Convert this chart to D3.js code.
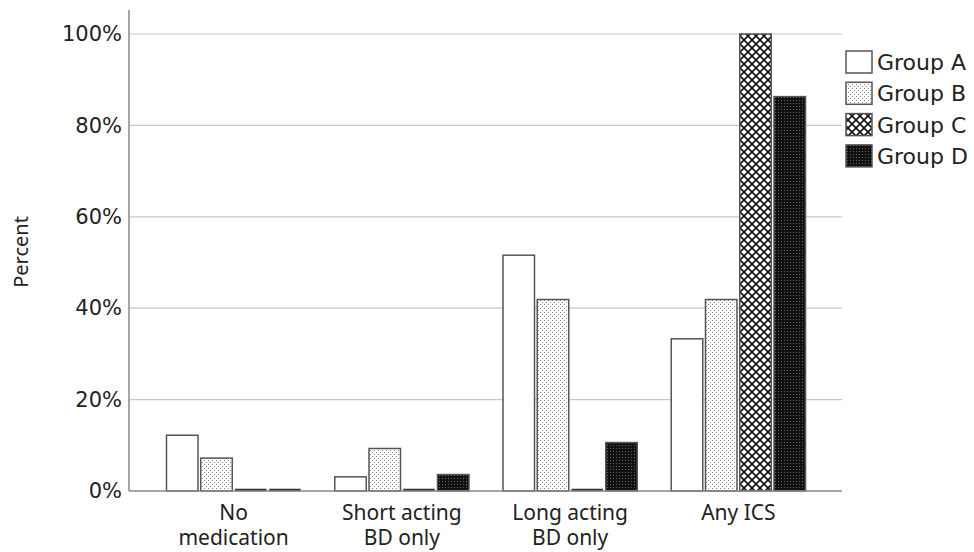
<!DOCTYPE html>
<html><head><meta charset="utf-8">
<script src="https://cdn.jsdelivr.net/npm/d3@7"></script>
<style>body{margin:0;background:#fff}svg{display:block}</style>
</head><body><svg id="c" width="974" height="552"></svg>
<script>
const categories = [["No","medication"],["Short acting","BD only"],["Long acting","BD only"],["Any ICS"]];
const groups = ["Group A","Group B","Group C","Group D"];
const groupA = [12.2, 3.1, 51.6, 33.3];
const groupB = [7.2, 9.3, 41.9, 41.9];
const groupC = [0, 0, 0, 100];
const groupD = [0, 3.6, 10.6, 86.3];
const yTicks = [0, 20, 40, 60, 80, 100];
const series = [groupA, groupB, groupC, groupD];

(function(){
const svg = d3.select("#c");
const defs = svg.append("defs");
const pB = defs.append("pattern").attr("id","pB").attr("width",4).attr("height",4).attr("patternUnits","userSpaceOnUse");
pB.append("rect").attr("width",4).attr("height",4).attr("fill","#fff");
pB.append("rect").attr("x",0).attr("y",0).attr("width",1).attr("height",1).attr("fill","#888");
pB.append("rect").attr("x",2).attr("y",2).attr("width",1).attr("height",1).attr("fill","#888");
const pC = defs.append("pattern").attr("id","pC").attr("width",8).attr("height",8).attr("patternUnits","userSpaceOnUse");
pC.append("rect").attr("width",8).attr("height",8).attr("fill","#fff");
pC.append("path").attr("d","M0,0L8,8M8,0L0,8").attr("stroke","#111").attr("stroke-width",1.6);
const pD = defs.append("pattern").attr("id","pD").attr("width",3).attr("height",3).attr("patternUnits","userSpaceOnUse");
pD.append("rect").attr("width",3).attr("height",3).attr("fill","#111");
pD.append("rect").attr("x",1).attr("y",1).attr("width",1).attr("height",1).attr("fill","#666");
const fills = ["#fff","url(#pB)","url(#pC)","url(#pD)"];

const mLeft = 129, mRight = 842, mTop = 34, mBottom = 491;
const y = d3.scaleLinear().domain([0,100]).range([mBottom, mTop]);
const x0 = d3.scaleBand().domain(d3.range(categories.length)).range([149.5, 822.5]).padding(0);
const x1 = d3.scaleBand().domain(d3.range(groups.length)).range([17, x0.bandwidth()-17]).paddingInner(0.08);

svg.append("g").selectAll("line").data(yTicks.filter(d=>d>0)).join("line")
  .attr("x1",mLeft).attr("x2",mRight).attr("y1",d=>y(d)).attr("y2",d=>y(d))
  .attr("stroke","#c8c8c8").attr("stroke-width",1.2);

const yAxis = d3.axisLeft(y).tickValues(yTicks).tickFormat(d=>d+"%").tickSize(0).tickPadding(7);
const gy = svg.append("g").attr("transform",`translate(${mLeft},0)`).call(yAxis);
gy.select(".domain").remove();
gy.selectAll("text").attr("font-family","DejaVu Sans").attr("font-size",21).attr("fill","#222");
svg.append("line").attr("x1",mLeft).attr("x2",mLeft).attr("y1",10).attr("y2",mBottom).attr("stroke","#888").attr("stroke-width",1.5);

series.forEach((vals,gi)=>{
  const g = svg.append("g");
  vals.forEach((v,ci)=>{
    const bx = x0(ci)+x1(gi), bw = x1.bandwidth();
    if (v>0) {
      g.append("rect").attr("x",bx).attr("y",y(v)).attr("width",bw).attr("height",mBottom-y(v))
        .attr("fill",fills[gi]).attr("stroke","#555").attr("stroke-width",1.5);
    } else {
      g.append("line").attr("x1",bx).attr("x2",bx+bw).attr("y1",mBottom-1).attr("y2",mBottom-1)
        .attr("stroke","#333").attr("stroke-width",2.5);
    }
  });
});

svg.append("line").attr("x1",mLeft).attr("x2",mRight).attr("y1",mBottom).attr("y2",mBottom).attr("stroke","#888").attr("stroke-width",1.5);

categories.forEach((lines,ci)=>{
  const t = svg.append("text").attr("text-anchor","middle").attr("font-family","Noto Sans").attr("font-size",21).attr("fill","#222");
  lines.forEach((l,li)=>{
    t.append("tspan").attr("x",x0(ci)+x0.bandwidth()/2).attr("y",520+li*25).text(l);
  });
});

svg.append("text").attr("transform","translate(28,252) rotate(-90)").attr("text-anchor","middle")
  .attr("font-family","Noto Sans").attr("font-size",20).attr("fill","#222").text("Percent");

const lg = svg.append("g");
groups.forEach((gname,i)=>{
  const yy = 51 + i*31.3;
  lg.append("rect").attr("x",846).attr("y",yy).attr("width",26).attr("height",22)
    .attr("fill",fills[i]).attr("stroke","#555").attr("stroke-width",1.5);
  lg.append("text").attr("x",877).attr("y",yy+19).attr("font-family","DejaVu Sans").attr("font-size",22).attr("fill","#222").text(gname);
});
})();
</script></body></html>
